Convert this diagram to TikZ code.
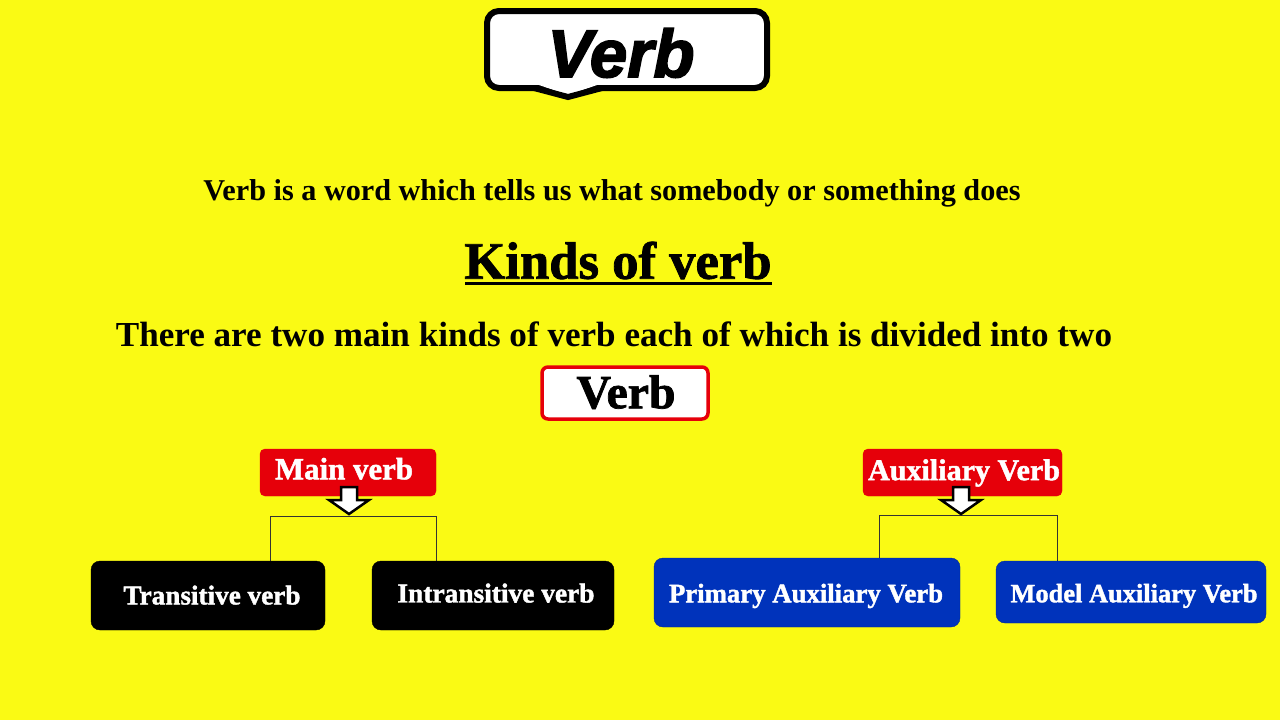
\documentclass[tikz,border=0pt]{standalone}
\usepackage{fontspec}
\setmainfont{Liberation Serif}
\newfontfamily\hdsans{Liberation Sans}[BoldItalicFeatures={FakeBold=2.5}]
\newfontfamily\heavyserif{Liberation Serif}[BoldFeatures={FakeBold=1.5}]
\usetikzlibrary{calc}
\definecolor{bgyellow}{RGB}{250,250,20}
\definecolor{boxred}{RGB}{230,0,10}
\definecolor{boxblue}{RGB}{0,51,187}
\newcommand{\fitw}[2]{\resizebox{#1}{!}{#2\vphantom{Tgy}}}
\tikzset{
  boxtext/.style={text=white, font=\heavyserif\bfseries\fontsize{21}{24}\selectfont, inner sep=0pt},
  redbox/.style={boxtext, draw=boxred, fill=boxred, rounded corners=5pt},
  blackbox/.style={boxtext, draw=black, fill=black, rounded corners=9pt},
  bluebox/.style={boxtext, draw=boxblue!80!black, fill=boxblue, rounded corners=9pt},
  branch/.style={draw=black!80, line width=0.8pt},
  downarrow/.style={draw=black, fill=white, line width=2.5pt, line join=miter},
  plaintext/.style={inner sep=0pt, font=\bfseries}
}
\begin{document}
\begin{tikzpicture}[x=1pt, y=-1pt]
\fill[bgyellow] (0,0) rectangle (1280,720);
\useasboundingbox (0,0) rectangle (1280,720);

% title bubble
\draw[line width=6pt, fill=white, rounded corners=12pt] (487,11) rectangle (767,88);
\fill[white] (536,84) -- (600,84) -- (568,95) -- cycle;
\draw[line width=6pt, line join=miter] (534,88) -- (568,97) -- (602,88);
\node[inner sep=0pt, font=\hdsans\bfseries\itshape\fontsize{63}{66}\selectfont] (title) at (621,53) {\resizebox{147pt}{!}{Verb}};

% definition
\node[plaintext] (def) at (612,193) {\fitw{817pt}{Verb is a word which tells us what somebody or something does}};

% kinds of verb
\node[plaintext, font=\heavyserif\bfseries] (kinds) at (618,266) {\fitw{307pt}{Kinds of verb}};
\draw[line width=3pt] (465,283) -- (772,283);

% sentence
\node[plaintext] (there) at (614,338) {\fitw{996pt}{There are two main kinds of verb each of which is divided into two}};

% verb box
\node[draw=boxred, fill=white, line width=3.5pt, rounded corners=6pt, minimum width=166pt, minimum height=52pt, inner sep=0pt] (verb) at (625,393) {};
\node[plaintext, font=\heavyserif\bfseries] (verbtxt) at (626,397) {\fitw{99pt}{Verb}};

% main verb
\node[redbox, minimum width=176pt, minimum height=47pt] (main) at (348,472.5) {};
\node[boxtext] (maintxt) at (344,472) {\fitw{138pt}{Main verb}};
\node[redbox, minimum width=199pt, minimum height=47pt] (aux) at (962.5,472.5) {};
\node[boxtext] (auxtxt) at (964,473) {\fitw{192pt}{Auxiliary Verb}};

% children
\node[blackbox, minimum width=234pt, minimum height=69pt] (tv) at (208,595.5) {};
\node[boxtext] (tvtxt) at (212,598) {\fitw{177pt}{Transitive verb}};
\node[blackbox, minimum width=242pt, minimum height=69pt] (iv) at (493,595.5) {};
\node[boxtext] (ivtxt) at (496,596) {\fitw{197pt}{Intransitive verb}};
\node[bluebox, minimum width=306pt, minimum height=69pt] (pav) at (807,592.5) {};
\node[boxtext] (pavtxt) at (806,596) {\fitw{274pt}{Primary Auxiliary Verb}};
\node[bluebox, minimum width=270pt, minimum height=62pt] (mav) at (1131,592) {};
\node[boxtext] (mavtxt) at (1134,596) {\fitw{247pt}{Model Auxiliary Verb}};

% bracket lines
\coordinate (mL) at (270,516);
\coordinate (mR) at (436,516);
\coordinate (aL) at (879,515);
\coordinate (aR) at (1057,515);
\draw[branch] (mL) -- (mR);
\draw[branch] (mL) -- (mL |- tv.north);
\draw[branch] (mR) -- (mR |- iv.north);
\draw[branch] (aL) -- (aR);
\draw[branch] (aL) -- (aL |- pav.north);
\draw[branch] (aR) -- (aR |- mav.north);

% down arrows
\foreach \cx/\tip in {349/514, 961/514}{
  \draw[downarrow] (\cx-8,487) -- (\cx+8,487) -- (\cx+8,500) -- (\cx+20,500) -- (\cx,\tip) -- (\cx-20,500) -- (\cx-8,500) -- cycle;
}
\end{tikzpicture}
\end{document}
